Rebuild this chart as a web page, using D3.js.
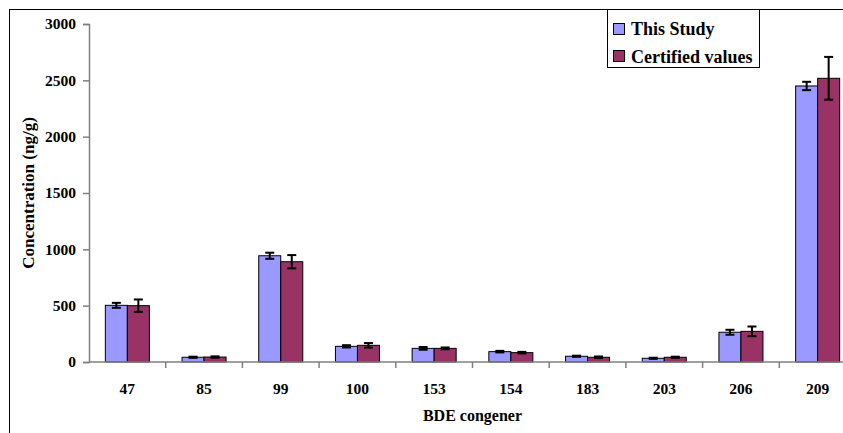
<!DOCTYPE html>
<html>
<head>
<meta charset="utf-8">
<script src="https://cdn.jsdelivr.net/npm/d3@7"></script>
<style>
  html, body { margin: 0; padding: 0; background: #fff; }
  svg { display: block; }
  svg text { font-family: "Liberation Serif", "Times New Roman", Times, serif !important; font-weight: bold; fill: #000; }
</style>
</head>
<body>
<svg id="chart" width="843" height="433" font-family="Liberation Serif"></svg>
<script>
const categories = ["47", "85", "99", "100", "153", "154", "183", "203", "206", "209"];
const seriesNames = ["This Study", "Certified values"];
const thisStudy = [503, 42, 943, 139, 121, 92, 51, 33, 264, 2450];
const certified = [500, 44, 890, 148, 121, 83, 42, 42, 272, 2518];
const thisStudyErr = [22, 5, 27, 10, 12, 7, 5, 5, 22, 37];
const certifiedErr = [55, 6, 59, 20, 8, 7, 7, 5, 43, 190];
const yTicks = [0, 500, 1000, 1500, 2000, 2500, 3000];
const colors = ["#9999FF", "#993366"];

const svg = d3.select("#chart");

// outer frame
svg.append("rect").attr("x", 9.5).attr("y", 9.5).attr("width", 900).attr("height", 500)
  .attr("fill", "none").attr("stroke", "#000").attr("stroke-width", 1);

const x0 = 89, x1 = 856, yTop = 24, yBot = 362;
const x = d3.scaleBand().domain(categories).range([x0, x1]).padding(0);
const xs = d3.scaleBand().domain(seriesNames)
  .range([x.bandwidth() * 0.213, x.bandwidth() * 0.787]).padding(0);
const y = d3.scaleLinear().domain([0, 3000]).range([yBot, yTop]);

const data = categories.map((c, i) => ({
  cat: c,
  vals: [
    { s: seriesNames[0], v: thisStudy[i], e: thisStudyErr[i], k: 0 },
    { s: seriesNames[1], v: certified[i], e: certifiedErr[i], k: 1 }
  ]
}));

// y axis
const yAxis = d3.axisLeft(y).tickValues(yTicks).tickSize(6).tickPadding(7).tickFormat(d3.format("d"));
const gy = svg.append("g").attr("transform", `translate(${x0},0)`).call(yAxis)
  .attr("font-family", null).attr("font-size", null);
gy.select(".domain").attr("stroke", "#808080").attr("stroke-width", 1.5);
gy.selectAll(".tick line").attr("stroke", "#808080").attr("stroke-width", 1.5);
gy.selectAll(".tick text").style("font-size", "15.5px").attr("fill", "#000");

// bars
const groups = svg.append("g").selectAll("g").data(data).join("g")
  .attr("transform", d => `translate(${x(d.cat)},0)`);
groups.selectAll("rect").data(d => d.vals).join("rect")
  .attr("x", d => xs(d.s))
  .attr("y", d => y(d.v))
  .attr("width", xs.bandwidth())
  .attr("height", d => y(0) - y(d.v))
  .attr("fill", d => colors[d.k])
  .attr("stroke", "#000").attr("stroke-width", 1);

// error bars
const eb = groups.selectAll("g.eb").data(d => d.vals).join("g").attr("class", "eb");
eb.append("line")
  .attr("x1", d => xs(d.s) + xs.bandwidth() / 2).attr("x2", d => xs(d.s) + xs.bandwidth() / 2)
  .attr("y1", d => y(d.v + d.e)).attr("y2", d => y(d.v - d.e))
  .attr("stroke", "#000").attr("stroke-width", 2);
eb.selectAll("line.cap").data(d => [{ s: d.s, v: d.v + d.e }, { s: d.s, v: d.v - d.e }]).join("line")
  .attr("class", "cap")
  .attr("x1", d => xs(d.s) + xs.bandwidth() / 2 - 4.5).attr("x2", d => xs(d.s) + xs.bandwidth() / 2 + 4.5)
  .attr("y1", d => y(d.v)).attr("y2", d => y(d.v))
  .attr("stroke", "#000").attr("stroke-width", 2);

// x axis
const gx = svg.append("g").attr("transform", `translate(0,${yBot})`);
gx.append("line").attr("x1", x0).attr("x2", x1).attr("y1", 0).attr("y2", 0)
  .attr("stroke", "#808080").attr("stroke-width", 1.5);
gx.selectAll("line.tk").data(categories.slice(1)).join("line").attr("class", "tk")
  .attr("x1", d => x(d)).attr("x2", d => x(d)).attr("y1", 0).attr("y2", 6)
  .attr("stroke", "#808080").attr("stroke-width", 1.5);
gx.selectAll("text").data(categories).join("text")
  .attr("x", d => x(d) + x.bandwidth() / 2).attr("y", 32)
  .attr("text-anchor", "middle").style("font-size", "15.5px").text(d => d);

// axis titles
svg.append("text").attr("x", (x0 + x1) / 2).attr("y", 421).attr("text-anchor", "middle")
  .style("font-size", "16px").text("BDE congener");
svg.append("text").attr("transform", `translate(34,${(yTop + yBot) / 2}) rotate(-90)`)
  .attr("text-anchor", "middle").style("font-size", "17px").text("Concentration (ng/g)");

// legend
const lg = svg.append("g");
lg.append("rect").attr("x", 607.5).attr("y", 9.5).attr("width", 152).attr("height", 58)
  .attr("fill", "#fff").attr("stroke", "#000").attr("stroke-width", 1);
seriesNames.forEach((s, i) => {
  lg.append("rect").attr("x", 613.5).attr("y", 23.5 + i * 27).attr("width", 11).attr("height", 11)
    .attr("fill", colors[i]).attr("stroke", "#000").attr("stroke-width", 1);
  lg.append("text").attr("x", 631).attr("y", 34.5 + i * 28).style("font-size", "18px").text(s);
});
</script>
</body>
</html>
